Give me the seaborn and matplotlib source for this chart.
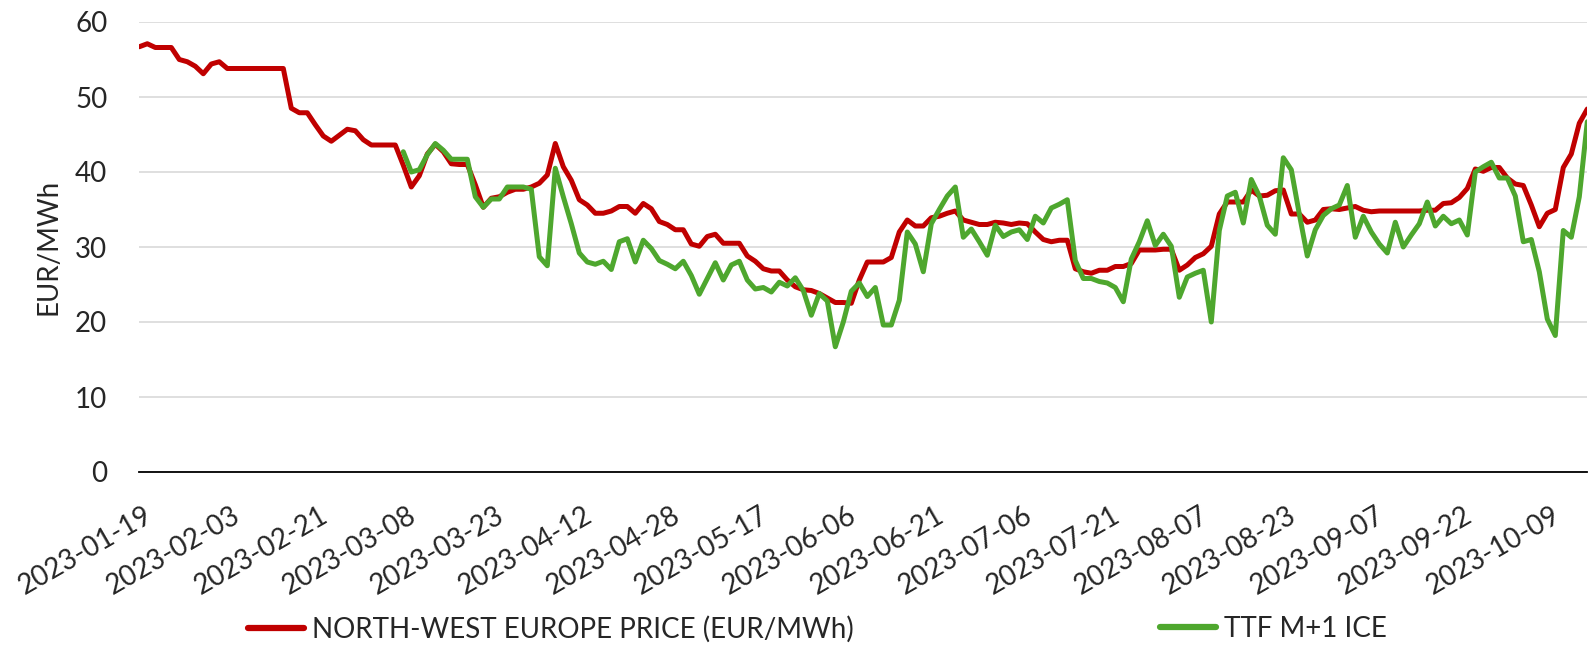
import numpy as np
import pandas as pd
import matplotlib
matplotlib.use("Agg")
import matplotlib.pyplot as plt
from matplotlib.lines import Line2D
from matplotlib.ticker import MultipleLocator
from matplotlib.transforms import ScaledTranslation
import seaborn as sns

sns.set_style("white")
plt.rcParams["font.family"] = ["Lato", "DejaVu Sans"]

# North-West Europe price, one value per trading day
nwe_price = [
    56.7, 57.1, 56.6, 56.6, 56.6, 55.0, 54.7, 54.1, 53.1, 54.4,
    54.7, 53.8, 53.8, 53.8, 53.8, 53.8, 53.8, 53.8, 53.8, 48.5,
    47.9, 47.9, 46.3, 44.8, 44.1, 44.9, 45.7, 45.5, 44.3, 43.6,
    43.6, 43.6, 43.6, 40.9, 38.0, 39.5, 42.4, 43.7, 42.7, 41.1,
    41.0, 41.0, 38.3, 35.3, 36.5, 36.7, 37.3, 37.7, 37.7, 38.0,
    38.5, 39.6, 43.8, 40.7, 38.9, 36.3, 35.6, 34.5, 34.5, 34.8,
    35.4, 35.4, 34.5, 35.8, 35.1, 33.4, 33.0, 32.3, 32.3, 30.4,
    30.1, 31.4, 31.7, 30.5, 30.5, 30.5, 28.8, 28.1, 27.1, 26.8,
    26.8, 25.6, 24.7, 24.3, 24.2, 23.8, 23.2, 22.6, 22.6, 22.5,
    25.6, 28.0, 28.0, 28.0, 28.6, 32.0, 33.6, 32.8, 32.8, 33.9,
    34.1, 34.5, 34.8, 33.6, 33.3, 33.0, 33.0, 33.3, 33.2, 33.0,
    33.2, 33.1, 32.0, 31.0, 30.7, 30.9, 30.9, 27.1, 26.7, 26.5,
    26.9, 26.9, 27.4, 27.4, 27.8, 29.6, 29.6, 29.6, 29.7, 29.7,
    26.9, 27.6, 28.6, 29.1, 30.1, 34.4, 36.0, 36.0, 36.0, 37.6,
    36.8, 36.9, 37.5, 37.6, 34.4, 34.4, 33.3, 33.6, 35.0, 35.1,
    35.0, 35.2, 35.4, 34.9, 34.7, 34.8, 34.8, 34.8, 34.8, 34.8,
    34.8, 34.9, 34.9, 35.8, 35.9, 36.6, 37.8, 40.4, 40.1, 40.6,
    40.6, 39.2, 38.4, 38.2, 35.6, 32.7, 34.5, 35.0, 40.6, 42.4,
    46.5, 48.4,
]

# TTF M+1 ICE, starts later than the NWE series
ttf_start = 33
ttf_price = [
    42.7, 40.0, 40.3, 42.3, 43.8, 42.9, 41.7, 41.7, 41.7, 36.7,
    35.3, 36.4, 36.4, 38.0, 38.0, 38.0, 37.7, 28.7, 27.5, 40.5,
    36.7, 33.1, 29.2, 28.0, 27.7, 28.1, 27.0, 30.7, 31.1, 28.0,
    30.9, 29.8, 28.2, 27.7, 27.1, 28.1, 26.2, 23.7, 25.8, 27.9,
    25.6, 27.6, 28.1, 25.6, 24.4, 24.6, 24.0, 25.3, 24.8, 25.9,
    24.2, 20.9, 23.8, 22.8, 16.7, 20.0, 24.1, 25.2, 23.4, 24.6,
    19.6, 19.6, 22.9, 32.0, 30.4, 26.7, 33.1, 35.0, 36.8, 38.0,
    31.3, 32.4, 30.7, 28.9, 32.9, 31.4, 32.0, 32.3, 31.0, 34.1,
    33.2, 35.2, 35.7, 36.3, 28.2, 25.8, 25.8, 25.4, 25.2, 24.6,
    22.7, 28.4, 30.7, 33.5, 30.2, 31.7, 30.1, 23.3, 26.0, 26.5,
    26.9, 20.0, 32.2, 36.8, 37.3, 33.2, 39.0, 36.8, 32.9, 31.7,
    41.9, 40.3, 34.4, 28.8, 32.3, 34.2, 35.1, 35.6, 38.2, 31.3,
    34.1, 32.0, 30.4, 29.2, 33.3, 30.0, 31.6, 33.1, 36.0, 32.8,
    34.1, 33.1, 33.6, 31.6, 40.0, 40.7, 41.3, 39.2, 39.2, 36.8,
    30.7, 31.0, 26.7, 20.4, 18.2, 32.2, 31.3, 36.7, 46.7,
]

# every 11th trading day gets a label
date_labels = [
    "2023-01-19", "2023-02-03", "2023-02-21", "2023-03-08", "2023-03-23",
    "2023-04-12", "2023-04-28", "2023-05-17", "2023-06-06", "2023-06-21",
    "2023-07-06", "2023-07-21", "2023-08-07", "2023-08-23", "2023-09-07",
    "2023-09-22", "2023-10-09",
]
label_step = 11
tick_step = 14

nwe_name = "NORTH-WEST EUROPE PRICE (EUR/MWh)"
ttf_name = "TTF M+1 ICE"
red = "#C00000"
green = "#4EA72E"
fs = 20

nwe = pd.DataFrame({"day": np.arange(len(nwe_price)), "price": nwe_price})
ttf = pd.DataFrame({"day": np.arange(ttf_start, ttf_start + len(ttf_price)), "price": ttf_price})

W, H = 1588, 645
fig = plt.figure(figsize=(W / 100, H / 100), dpi=100)
ax = fig.add_axes([139.3 / W, 173 / H, 1448 / W, 450 / H])

line_kw = dict(lw=3.6, solid_joinstyle="round", solid_capstyle="round")
sns.lineplot(data=nwe, x="day", y="price", color=red, ax=ax, **line_kw)
sns.lineplot(data=ttf, x="day", y="price", color=green, ax=ax, **line_kw)

ax.set_xlim(0, len(nwe_price) - 1)
ax.set_ylim(0, 60)
ax.yaxis.set_major_locator(MultipleLocator(10))
ax.grid(axis="y", color="#D9D9D9", lw=1.2)
ax.grid(axis="x", visible=False)
ax.set_axisbelow(True)

for side in ["left", "top", "right"]:
    ax.spines[side].set_visible(False)
ax.spines["bottom"].set_color("black")
ax.spines["bottom"].set_linewidth(1.3)

# labels every 11 days, tick marks every 14 days (like the source chart)
ax.set_xticks(np.arange(len(date_labels)) * label_step)
ax.set_xticklabels(date_labels, rotation=30, ha="right", rotation_mode="anchor", fontsize=fs)
ax.set_xticks(np.arange(0, len(nwe_price), tick_step), minor=True)
ax.tick_params(axis="x", which="major", length=0, pad=22)
ax.tick_params(axis="x", which="minor", length=7, width=1.2, color="black", direction="out")
shift = ScaledTranslation(4 / 100, 0, fig.dpi_scale_trans)
for lab in ax.get_xticklabels():
    lab.set_transform(lab.get_transform() + shift)

ax.tick_params(axis="y", length=0, pad=23, labelsize=fs)
ax.set_xlabel("")
ax.set_ylabel("EUR/MWh", fontsize=fs)
ax.yaxis.set_label_coords(-0.0534, 0.5)

leg_kw = dict(loc="center left", frameon=False, borderpad=0, borderaxespad=0,
              handlelength=2.0, handletextpad=0.3, fontsize=fs)
fig.legend(handles=[Line2D([], [], color=red, lw=4.5)], labels=[nwe_name],
           bbox_to_anchor=(248 / W, 0.025), **leg_kw)
fig.legend(handles=[Line2D([], [], color=green, lw=4.5)], labels=[ttf_name],
           bbox_to_anchor=(1160 / W, 0.025), **leg_kw)

fig.savefig("out.png", dpi=100)
